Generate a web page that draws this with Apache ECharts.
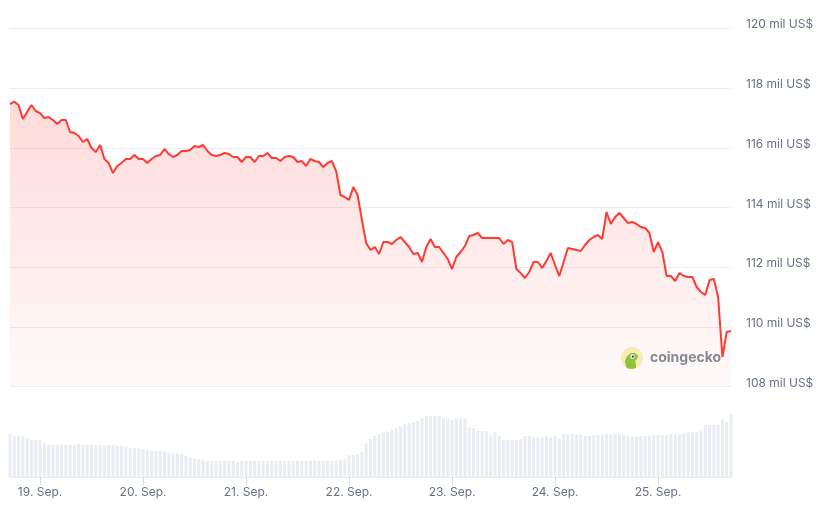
<!DOCTYPE html>
<html>
<head>
<meta charset="utf-8">
<script src="https://cdn.jsdelivr.net/npm/echarts@6/dist/echarts.min.js"></script>
<style>
html,body{margin:0;padding:0;background:#fff;}
#chart{width:830px;height:511px;}
</style>
</head>
<body>
<div id="chart"></div>
<script>
// Hourly BTC price (US$), 18 Sep 17:00 -> 25 Sep 17:00 (UTC)
const startUTC = Date.UTC(2025, 8, 18, 17, 0, 0);
const prices = [
117464,117541,117431,116962,117197,117431,117230,117163,116996,117029,
116929,116795,116929,116929,116527,116493,116393,116192,116293,115991,
115857,116092,115623,115489,115154,115389,115489,115623,115623,115757,
115623,115623,115489,115623,115723,115757,115958,115790,115690,115757,
115891,115891,115924,116058,116025,116092,115891,115757,115723,115757,
115824,115790,115690,115690,115523,115690,115690,115523,115723,115723,
115824,115656,115656,115556,115690,115723,115690,115523,115556,115389,
115623,115556,115523,115355,115489,115556,115221,114418,114351,114250,
114686,114418,113581,112811,112577,112677,112443,112844,112844,112777,
112911,113012,112844,112677,112443,112476,112175,112677,112945,112677,
112677,112476,112275,111940,112342,112510,112710,113045,113079,113146,
112978,112978,112978,112978,112978,112777,112911,112844,111940,111806,
111639,111840,112175,112175,111974,112208,112476,112074,111706,112175,
112643,112610,112577,112543,112744,112911,113012,113079,112945,113849,
113447,113681,113815,113648,113480,113514,113447,113346,113313,113146,
112510,112844,112510,111706,111706,111539,111806,111706,111673,111673,
111338,111170,111070,111572,111606,111003,108994,109831,109865
];
// Volume (billion US$, approximate)
const volumes = [
43,41.3,41.3,40.3,38.3,37,37,37,34.3,32.7,
32,32,32,32,32,32,33,32,32,32,
32,32,31.3,32,32,31,31.3,30.3,29.3,28.7,
28.7,28,27,26.3,26,26,25.3,24.3,23.7,23.7,
22.7,21,19.3,18.7,17.7,17,16,16,16,16,
16,16,16,14.7,16,16,16,16,16,16,
16,16.3,16,16,16,16,16,16,16,16,
16,16.7,16,16,16,16,16,17,17.7,22,
22,23,25.3,33.7,38,41.3,43,44.3,45.3,47,
48.7,51,53,53.7,54.7,56,58.7,61,61,61,
61,58.7,57.7,57,58.7,58.7,58.7,49.7,48.7,46,
46,46,42,44.7,41,37,37,37,37,38,
41,41,39.7,39.7,39.7,41,39.7,41,38.7,43,
42.3,43,42.3,42.3,41,41,42,42,42.3,43,
43,43.7,43,42.3,41.3,40.3,40.3,41,41,41,
41.7,42,42,42.3,43,43,43,43.7,44.7,44.7,
45,46.3,52,52,52,52,57,55,63
];
const priceTicks = [108000, 110000, 112000, 114000, 116000, 118000, 120000];
const monthLabels = {"09": "Sep."};

const categories = prices.map((_, i) =>
  new Date(startUTC + i * 3600000).toISOString().slice(0, 16).replace('T', ' ')
);
const isMidnight = (idx, val) => String(val).endsWith('00:00');
const dayLabel = (val) => {
  const d = parseInt(val.slice(8, 10), 10);
  return d + '. ' + monthLabels[val.slice(5, 7)];
};

const chart = echarts.init(document.getElementById('chart'), null, {renderer: 'canvas'});
const font = 'Inter, "Noto Sans", sans-serif';

chart.setOption({
  animation: false,
  backgroundColor: '#ffffff',
  grid: [
    {left: 10, right: 99, top: 28.3, height: 358.4},
    {left: 10, right: 99, top: 400, bottom: 34}
  ],
  xAxis: [
    {
      type: 'category', gridIndex: 0, data: categories, boundaryGap: false,
      axisLine: {show: false}, axisTick: {show: false}, axisLabel: {show: false},
      splitLine: {show: false}
    },
    {
      type: 'category', gridIndex: 1, data: categories, boundaryGap: false,
      axisLine: {show: true, lineStyle: {color: '#e9edf2', width: 1}},
      axisTick: {show: true, interval: isMidnight, length: 8, lineStyle: {color: '#d5dae1'}},
      axisLabel: {
        show: true, interval: isMidnight, margin: 9,
        color: '#667085', fontSize: 12, fontFamily: font,
        formatter: dayLabel
      },
      splitLine: {show: false}
    }
  ],
  yAxis: [
    {
      type: 'value', gridIndex: 0, position: 'right',
      min: priceTicks[0], max: priceTicks[priceTicks.length - 1], interval: 2000,
      axisLine: {show: false}, axisTick: {show: false},
      splitLine: {show: true, lineStyle: {color: '#eceef2', width: 1}},
      axisLabel: {
        show: true, margin: 15, color: '#667085', fontSize: 12, fontFamily: font,
        verticalAlign: 'bottom', lineHeight: 7,
        formatter: v => (v / 1000) + ' mil US$'
      }
    },
    {
      type: 'value', gridIndex: 1, min: 0, max: 77,
      axisLine: {show: false}, axisTick: {show: false},
      axisLabel: {show: false}, splitLine: {show: false}
    }
  ],
  series: [
    {
      type: 'line', xAxisIndex: 0, yAxisIndex: 0, data: prices,
      showSymbol: false, symbol: 'none', smooth: false,
      lineStyle: {color: '#ff3a33', width: 2},
      areaStyle: {
        origin: 'start',
        color: new echarts.graphic.LinearGradient(0, 0, 0, 1, [
          {offset: 0, color: 'rgba(255,58,51,0.26)'},
          {offset: 1, color: 'rgba(255,58,51,0.03)'}
        ])
      },
      z: 3
    },
    {
      type: 'bar', xAxisIndex: 1, yAxisIndex: 1, data: volumes,
      barWidth: 3, itemStyle: {color: '#e9edf2'}, z: 1
    }
  ],
  graphic: [
    {
      type: 'group', x: 621, y: 347, z: 10,
      children: [
        {type: 'circle', shape: {cx: 11, cy: 11, r: 11}, style: {fill: '#f8f3b8'}},
        {type: 'polygon', shape: {points: [[5,20],[4,14],[6,9],[10,6],[14,6],[17,9],[16,12],[14,14],[15,17],[15,21],[11,22],[7,21.5]]}, style: {fill: '#8cc63f'}},
        {type: 'circle', shape: {cx: 11.5, cy: 9.5, r: 2.2}, style: {fill: '#ffffff'}},
        {type: 'circle', shape: {cx: 11.8, cy: 9.6, r: 1.1}, style: {fill: '#333333'}}
      ]
    },
    {
      type: 'text', x: 650, y: 351, z: 10,
      style: {text: 'coingecko', fill: '#858a92', font: 'bold 14px ' + font}
    }
  ]
});
</script>
</body>
</html>
